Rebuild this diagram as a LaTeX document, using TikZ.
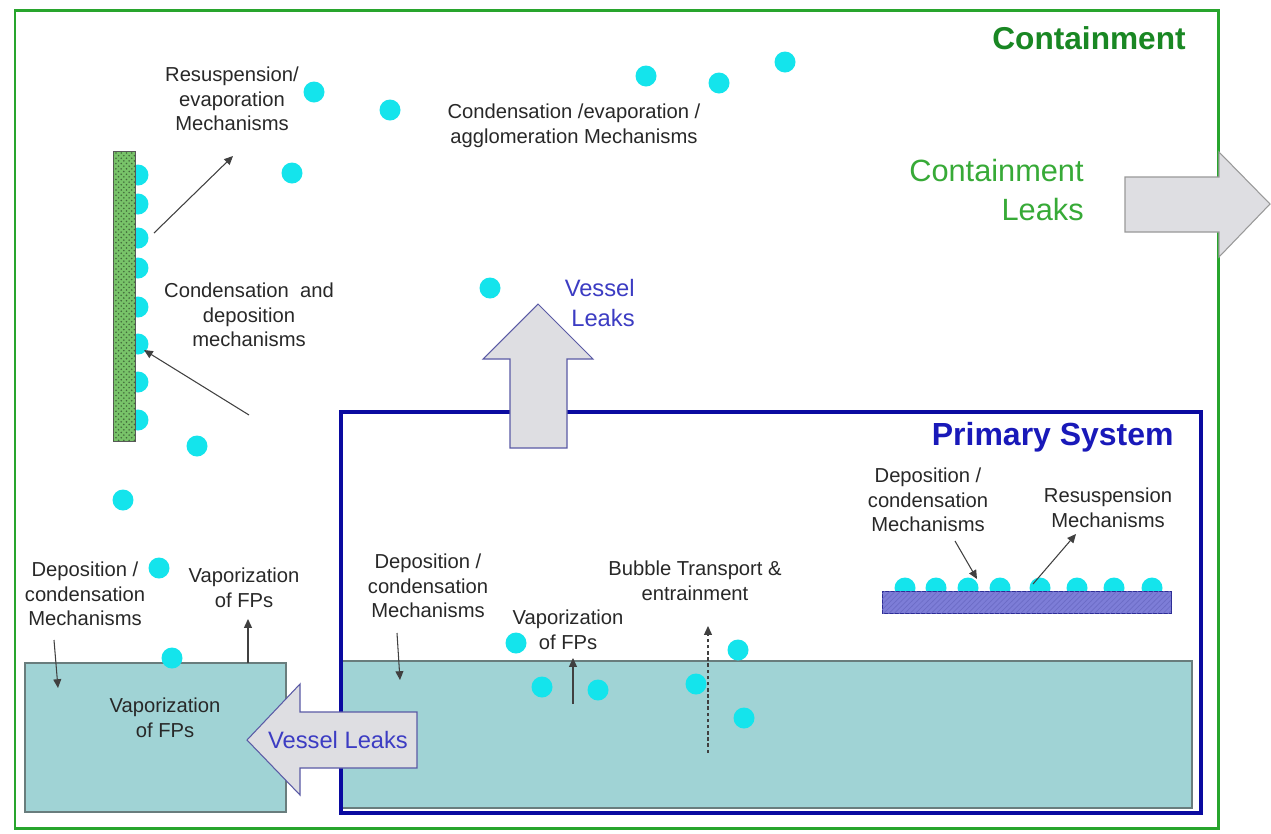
\documentclass[tikz,border=0pt]{standalone}
\usepackage{fontspec}
\setmainfont{Liberation Sans}
\usetikzlibrary{arrows.meta,patterns}
\definecolor{contgreen}{RGB}{40,165,45}
\definecolor{conttext}{RGB}{25,135,35}
\definecolor{leaktext}{RGB}{55,170,55}
\definecolor{primblue}{RGB}{10,10,160}
\definecolor{primtext}{RGB}{25,25,185}
\definecolor{vesseltext}{RGB}{60,60,195}
\definecolor{fpcyan}{RGB}{20,228,236}
\definecolor{poolfill}{RGB}{160,211,213}
\definecolor{poolline}{RGB}{105,125,125}
\definecolor{wallgreen}{RGB}{120,195,105}
\definecolor{platefill}{RGB}{125,125,215}
\definecolor{arrowfill}{RGB}{222,222,226}
\definecolor{txtgray}{RGB}{40,40,40}
\tikzset{
  lbl/.style={font=\fontsize{11.5}{14}\selectfont, text=txtgray, align=center, inner sep=0pt},
  fpdot/.style={circle, fill=fpcyan, draw=none, minimum size=0.42cm, inner sep=0pt},
  conn/.style={-{Triangle[length=5pt,width=4.5pt]}, line width=0.6pt, draw=black!75},
  bigarrow/.style={fill=arrowfill, draw=gray!80, line width=0.6pt},
  varrow/.style={fill=arrowfill, draw=vesseltext!55!gray, line width=0.6pt},
  pool/.style={fill=poolfill, draw=poolline, line width=0.6pt}
}
\begin{document}
\begin{tikzpicture}[x=0.02cm,y=-0.02cm]
\useasboundingbox (0,0) rectangle (1271,833);
\fill[white] (0,0) rectangle (1271,833);

% containment boundary
\draw[contgreen, line width=1.7pt] (15,10) rectangle (1218,828);
% containment leak arrow
\draw[bigarrow] (1125,177) -- (1219,177) -- (1219,152) -- (1270,204) -- (1219,257) -- (1219,232) -- (1125,232) -- cycle;
\node[anchor=east, font=\bfseries\fontsize{18}{21}\selectfont, text=conttext, inner sep=0pt] (cont) at (1186,38) {Containment};
\node[anchor=east, align=right, font=\fontsize{17.5}{22.5}\selectfont, text=leaktext, inner sep=0pt] (contleak) at (1084,190) {Containment\\Leaks};

% wall with deposited particles
\foreach \yy [count=\i] in {175,204,238,268,307,344,382,420} {
  \node[fpdot] (w\i) at (138,\yy) {};
}
\draw[fill=wallgreen, draw=gray!70!black, line width=0.5pt, postaction={pattern=crosshatch dots, pattern color=wallgreen!55!black}] (113,151) rectangle (135,441);

% floating particles
\node[fpdot] (p1) at (314,92) {};
\node[fpdot] (p2) at (390,110) {};
\node[fpdot] (p3) at (292,173) {};
\node[fpdot] (p4) at (646,76) {};
\node[fpdot] (p5) at (719,83) {};
\node[fpdot] (p6) at (785,62) {};
\node[fpdot] (p7) at (490,288) {};
\node[fpdot] (p8) at (197,446) {};
\node[fpdot] (p9) at (123,500) {};
\node[fpdot] (p10) at (159,568) {};

% wall labels
\node[lbl] (resusp) at (232,99) {Resuspension/\\evaporation\\Mechanisms};
\node[lbl] (conddep) at (249,315) {Condensation\ \ and\\deposition\\mechanisms};
\node[lbl] (condevap) at (574,126) {Condensation /evaporation /\\agglomeration Mechanisms};
\coordinate (ra) at (154,233);
\coordinate (rb) at (233,156);
\draw[conn] (ra) -- (rb);
\coordinate (ca) at (249,415);
\coordinate (cb) at (144,350);
\draw[conn] (ca) -- (cb);

% left pool
\draw[pool] (25,663) rectangle (286,812);
\node[fpdot] (p11) at (172,658) {};
\node[lbl] (ldep) at (85,594) {Deposition /\\condensation\\Mechanisms};
\node[lbl] (lvap) at (244,588) {Vaporization\\of FPs};
\node[lbl] (lvapin) at (165,718) {Vaporization\\of FPs};
\coordinate (lda) at (54,640);
\coordinate (ldb) at (58,688);
\draw[conn] (lda) -- (ldb);
\coordinate (lva) at (248,663);
\coordinate (lvb) at (248,619);
\draw[conn] (lva) -- (lvb);

% primary system
\draw[pool] (341,661) rectangle (1192,808);
\draw[primblue, line width=2.3pt] (341,412) rectangle (1201,813);
\node[anchor=east, font=\bfseries\fontsize{18.2}{21}\selectfont, text=primtext, inner sep=0pt] (prim) at (1174,437) {Primary System};

% vessel leak arrows
\draw[varrow] (510,448) -- (510,359) -- (483,359) -- (538,304) -- (593,359) -- (567,359) -- (567,448) -- cycle;
\node[anchor=east, align=right, font=\fontsize{13.5}{17}\selectfont, text=vesseltext, inner sep=0pt] (vup) at (635,303) {Vessel\\Leaks};
\draw[varrow] (417,712) -- (300,712) -- (300,684) -- (247,740) -- (300,795) -- (300,768) -- (417,768) -- cycle;
\node[font=\fontsize{13.5}{17}\selectfont, text=vesseltext, inner sep=0pt] (vleft) at (338,740) {Vessel Leaks};

% primary pool particles and labels
\node[fpdot] (q1) at (516,643) {};
\node[fpdot] (q2) at (542,687) {};
\node[fpdot] (q3) at (598,690) {};
\node[fpdot] (q4) at (696,684) {};
\node[fpdot] (q5) at (738,650) {};
\node[fpdot] (q6) at (744,718) {};
\node[lbl] (pdep) at (428,586) {Deposition /\\condensation\\Mechanisms};
\node[lbl] (pvap) at (568,630) {Vaporization\\of FPs};
\node[lbl] (bub) at (695,581) {Bubble Transport \&\\entrainment};
\coordinate (pda) at (397,633);
\coordinate (pdb) at (400,680);
\draw[conn] (pda) -- (pdb);
\coordinate (pva) at (573,704);
\coordinate (pvb) at (573,658);
\draw[conn] (pva) -- (pvb);
\coordinate (bua) at (708,753);
\coordinate (bub2) at (708,626);
\draw[conn, dash pattern=on 2pt off 1.5pt] (bua) -- (bub2);

% plate with deposited particles
\foreach \xx [count=\i] in {905,936,968,1000,1040,1077,1114,1152} {
  \node[fpdot] (s\i) at (\xx,588) {};
}
\draw[fill=platefill, draw=primblue!70!gray, line width=0.5pt, postaction={pattern=north east lines, pattern color=primblue!60}] (882,591) rectangle (1171,613);
\node[lbl] (sdep) at (928,500) {Deposition /\\condensation\\Mechanisms};
\node[lbl] (sres) at (1108,508) {Resuspension\\Mechanisms};
\coordinate (sda) at (955,541);
\coordinate (sdb) at (977,579);
\draw[conn] (sda) -- (sdb);
\coordinate (sra) at (1033,584);
\coordinate (srb) at (1076,534);
\draw[conn] (sra) -- (srb);
\end{tikzpicture}
\end{document}
